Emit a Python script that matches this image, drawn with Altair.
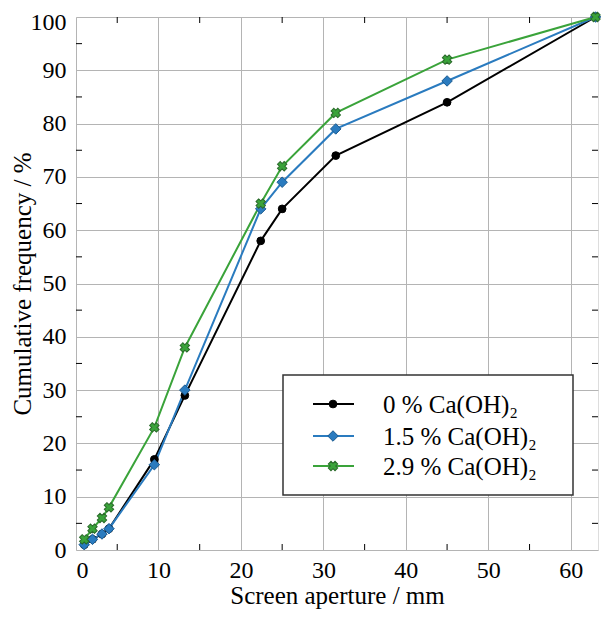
import altair as alt
import pandas as pd

# ---- data ----
aperture = [1, 2, 3.15, 4, 9.5, 13.2, 22.4, 25, 31.5, 45, 63]
s_0 = [1, 2, 3, 4, 17, 29, 58, 64, 74, 84, 100]
s_15 = [1, 2, 3, 4, 16, 30, 64, 69, 79, 88, 100]
s_29 = [2, 4, 6, 8, 23, 38, 65, 72, 82, 92, 100]
labels = ["0 % Ca(OH)₂", "1.5 % Ca(OH)₂", "2.9 % Ca(OH)₂"]
x_ticks = [0, 10, 20, 30, 40, 50, 60]
y_ticks = [0, 10, 20, 30, 40, 50, 60, 70, 80, 90, 100]
x_minor = [5, 15, 25, 35, 45, 55]
y_minor = [5, 15, 25, 35, 45, 55, 65, 75, 85, 95]

FONT = "'Liberation Serif', 'Times New Roman', serif"
W, H = 522, 533

series = [
    (labels[0], s_0, "#000000", "#000000", "circle", 60, 0),
    (labels[1], s_15, "#2a7bbf", "#1a5a90", "diamond", 110, 0),
    (labels[2], s_29, "#3aa33a", "#2a6a2a", "cross", 90, 45),
]

xs = alt.Scale(domain=[0, 63.3], nice=False)
ys = alt.Scale(domain=[0, 100], nice=False)

x_axis = alt.Axis(values=x_ticks, title="Screen aperture / mm", grid=True, ticks=False,
                  domain=False, labelFont=FONT, labelFontSize=24, labelColor="black",
                  titleFont=FONT, titleFontSize=25, titleFontWeight="normal",
                  titleColor="black", labelPadding=8,
                  titleBaseline="alphabetic", titleX=W / 2, titleY=53,
                  gridColor="#b4b4b4", gridWidth=1)
y_axis = alt.Axis(values=y_ticks, title="Cumulative frequency / %", grid=True, ticks=False,
                  domain=False, labelFont=FONT, labelFontSize=24, labelColor="black",
                  titleFont=FONT, titleFontSize=25, titleFontWeight="normal",
                  titleColor="black", labelPadding=10,
                  labelOffset={"condition": {"test": "datum.value == 100", "value": 5}, "value": 0},
                  titleX=-41, titleY=H / 2,
                  gridColor="#b4b4b4", gridWidth=1)


def X(f):
    return alt.X(f, scale=xs, axis=x_axis)


def Y(f):
    return alt.Y(f, scale=ys, axis=y_axis)


layers = []
for lab, vals, col, edge, shp, sz, ang in series:
    df = pd.DataFrame({"x": aperture, "y": vals})
    layers.append(alt.Chart(df).mark_line(color=col, strokeWidth=2)
                  .encode(x=X("x:Q"), y=Y("y:Q")))
for lab, vals, col, edge, shp, sz, ang in series:
    df = pd.DataFrame({"x": aperture, "y": vals})
    layers.append(alt.Chart(df).mark_point(shape=shp, size=sz, filled=True, fill=col,
                                           stroke=edge, strokeWidth=1, opacity=1, angle=ang)
                  .encode(x=X("x:Q"), y=Y("y:Q")))

# minor ticks (inward) on all four sides
dxm = pd.DataFrame({"x": x_minor})
dym = pd.DataFrame({"y": y_minor})
tk = dict(color="black", strokeWidth=1)
layers.append(alt.Chart(dxm).mark_rule(**tk).encode(x=X("x:Q"), y=alt.value(H), y2=alt.value(H - 6)))
layers.append(alt.Chart(dxm).mark_rule(**tk).encode(x=X("x:Q"), y=alt.value(0), y2=alt.value(6)))
layers.append(alt.Chart(dym).mark_rule(**tk).encode(y=Y("y:Q"), x=alt.value(0), x2=alt.value(6)))
layers.append(alt.Chart(dym).mark_rule(**tk).encode(y=Y("y:Q"), x=alt.value(W), x2=alt.value(W - 6)))

# legend (drawn manually)
one = pd.DataFrame({"a": [0]})
layers.append(alt.Chart(one).mark_rect(fill="white", stroke="#333333", strokeWidth=1.5)
              .encode(x=alt.value(207), x2=alt.value(497), y=alt.value(358), y2=alt.value(478)))
row_y = [387, 419, 449]
for (lab, vals, col, edge, shp, sz, ang), yy in zip(series, row_y):
    ldf = pd.DataFrame({"label": [lab]})
    layers.append(alt.Chart(ldf).mark_rule(color=col, strokeWidth=2)
                  .encode(x=alt.value(237), x2=alt.value(278), y=alt.value(yy)))
    layers.append(alt.Chart(ldf).mark_point(shape=shp, size=sz, filled=True, fill=col,
                                            stroke=edge, strokeWidth=1, opacity=1, angle=ang)
                  .encode(x=alt.value(257), y=alt.value(yy)))
    layers.append(alt.Chart(ldf).mark_text(font=FONT, fontSize=25, align="left",
                                           baseline="middle", color="black")
                  .encode(text="label:N", x=alt.value(307), y=alt.value(yy + 1)))

chart = alt.layer(*layers).properties(
    width=W, height=H,
    autosize=alt.AutoSizeParams(type="none"),
    padding={"left": 68, "top": 9, "right": 4, "bottom": 59},
).configure_view(stroke="#222222", strokeWidth=1.5).configure(background="white")

chart.save("out.html", embed_options={"renderer": "svg", "actions": False})
